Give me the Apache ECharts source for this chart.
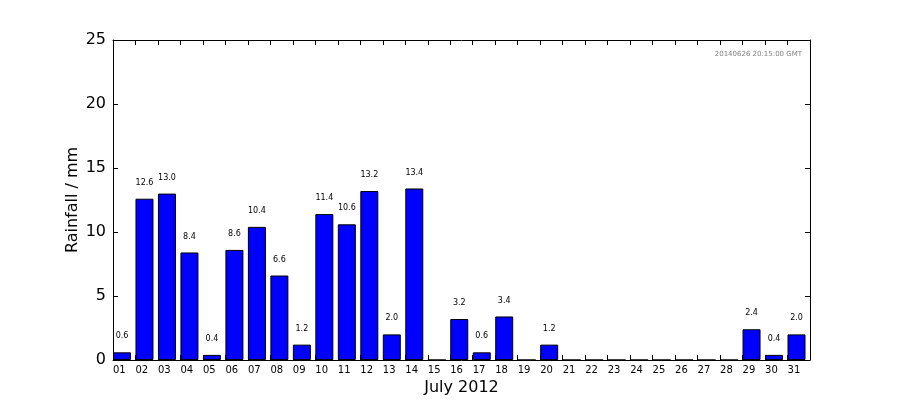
<!DOCTYPE html>
<html>
<head>
<meta charset="utf-8">
<script src="https://cdn.jsdelivr.net/npm/echarts@6/dist/echarts.min.js"></script>
<style>
  html, body { margin: 0; padding: 0; background: #fff; }
  #chart { width: 900px; height: 400px; }
</style>
</head>
<body>
<div id="chart"></div>
<script>
  // daily rainfall, July 2012
  var days = ['01','02','03','04','05','06','07','08','09','10','11','12','13','14','15','16',
              '17','18','19','20','21','22','23','24','25','26','27','28','29','30','31'];
  var rainfall = [0.6, 12.6, 13.0, 8.4, 0.4, 8.6, 10.4, 6.6, 1.2, 11.4, 10.6, 13.2, 2.0, 13.4, 0,
                  3.2, 0.6, 3.4, 0, 1.2, 0, 0, 0, 0, 0, 0, 0, 0, 2.4, 0.4, 2.0];
  var yTicks = [0, 5, 10, 15, 20, 25];
  var stamp = '20140626 20:15:00 GMT';

  var font = 'DejaVu Sans';
  var chart = echarts.init(document.getElementById('chart'), null, { renderer: 'canvas' });

  // bars drawn from day start (i) to i+0.8, like an edge-aligned bar plot
  var barData = rainfall.map(function (v, i) { return [i + 0.4, v]; });

  function tickAxis(pos, showLabels) {
    return {
      type: 'value', position: pos, min: 0, max: 31, interval: 1,
      axisLine: { show: true, onZero: false, lineStyle: { color: '#000', width: 1 } },
      axisTick: { show: true, inside: true, length: 5, lineStyle: { color: '#000' } },
      axisLabel: {
        show: showLabels, margin: 5, color: '#000', fontFamily: font, fontSize: 10,
        align: 'left', showMaxLabel: false,
        formatter: function (v) { return days[v] || ''; }
      },
      splitLine: { show: false }
    };
  }
  function yAxis(pos, showLabels) {
    return {
      type: 'value', position: pos, min: yTicks[0], max: yTicks[yTicks.length - 1], interval: 5,
      axisLine: { show: true, onZero: false, lineStyle: { color: '#000', width: 1 } },
      axisTick: { show: true, inside: true, length: 5, lineStyle: { color: '#000' } },
      axisLabel: { show: showLabels, margin: 7, color: '#000', fontFamily: font, fontSize: 16 },
      splitLine: { show: false }
    };
  }

  var xBottom = tickAxis('bottom', true);
  xBottom.name = 'July 2012';
  xBottom.nameLocation = 'middle';
  xBottom.nameGap = 20;
  xBottom.nameMoveOverlap = false;
  xBottom.nameTextStyle = { color: '#000', fontFamily: font, fontSize: 16 };

  var yLeft = yAxis('left', true);
  yLeft.name = 'Rainfall / mm';
  yLeft.nameLocation = 'middle';
  yLeft.nameGap = 32;
  yLeft.nameMoveOverlap = false;
  yLeft.nameTextStyle = { color: '#000', fontFamily: font, fontSize: 16 };

  chart.setOption({
    animation: false,
    backgroundColor: '#fff',
    grid: { left: 113, right: 90, top: 40, bottom: 40, containLabel: false, outerBoundsMode: 'none' },
    xAxis: [xBottom, tickAxis('top', false)],
    yAxis: [yLeft, yAxis('right', false)],
    graphic: [{
      type: 'text', right: 98, top: 51,
      style: { text: stamp, fill: '#808080', font: '7px ' + font }
    }],
    series: [{
      type: 'bar',
      xAxisIndex: 0, yAxisIndex: 0,
      barWidth: 18,
      data: barData,
      itemStyle: { color: '#0000ff', borderColor: '#000', borderWidth: 1 },
      label: {
        show: true, position: 'top', distance: 12,
        color: '#000', fontFamily: font, fontSize: 8,
        formatter: function (p) { return p.value[1] > 0 ? p.value[1].toFixed(1) : ''; }
      }
    }]
  });
</script>
</body>
</html>
